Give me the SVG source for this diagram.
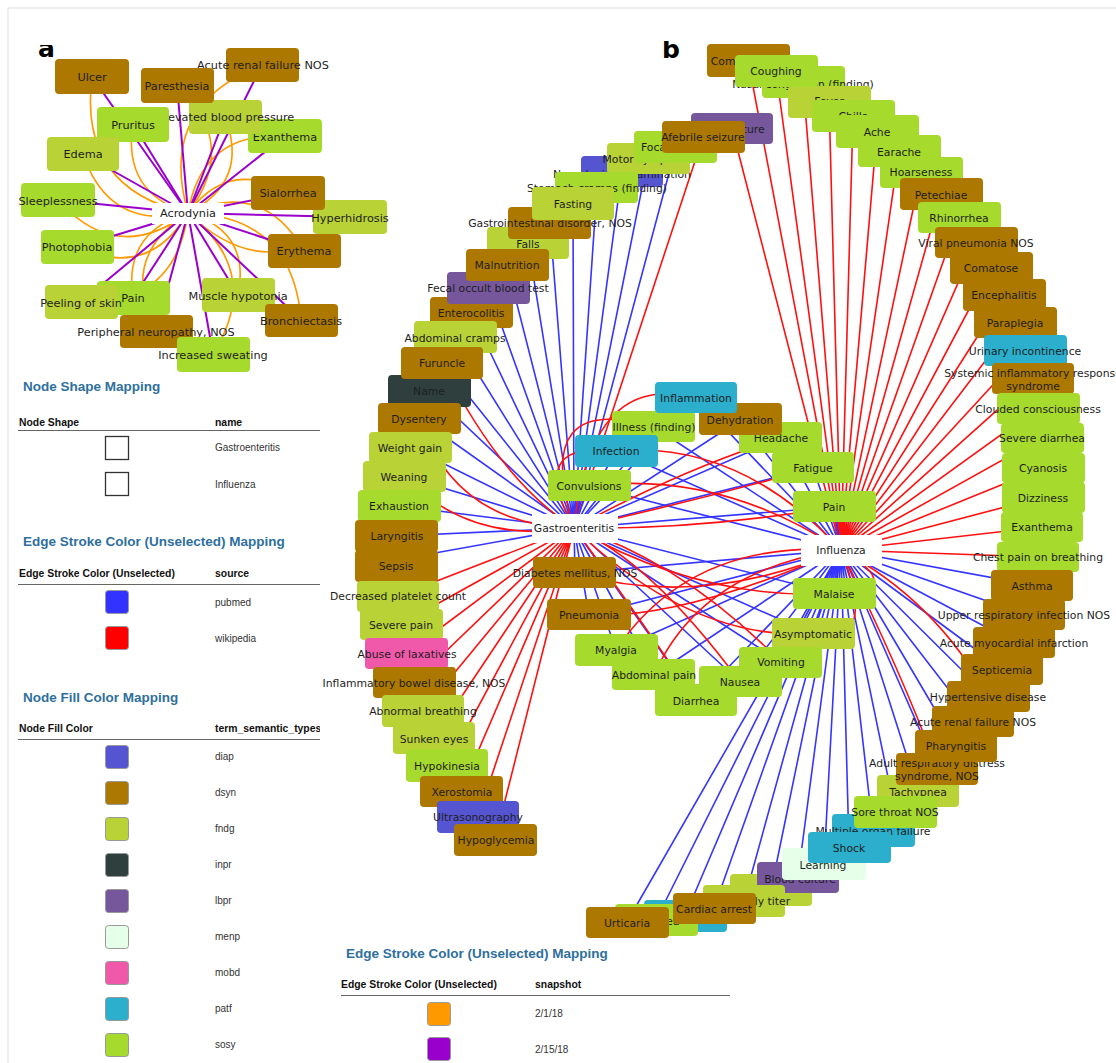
<svg xmlns="http://www.w3.org/2000/svg" width="1116" height="1063" viewBox="0 0 1116 1063">
<defs>
<style>
.ta{font-family:"DejaVu Sans",sans-serif;font-size:11.3px;fill:#1e1e1e;text-anchor:middle}
.tb{font-family:"DejaVu Sans",sans-serif;font-size:10.8px;fill:#1e1e1e;text-anchor:middle}
.dsyn{fill:#AD7800}.fndg{fill:#B9D236}.sosy{fill:#A6DA2C}.patf{fill:#2BAFCC}.diap{fill:#5555D2}.lbpr{fill:#76579C}.inpr{fill:#2F3F3E}.menp{fill:#E6FFE8}.mobd{fill:#F058AA}.hub{fill:#fff}
.pu{stroke:#9900CC;stroke-width:2;fill:none}
.or{stroke:#FF9900;stroke-width:1.6;fill:none}
.bl{stroke:#3535FF;stroke-width:1.6;fill:none}
.rd{stroke:#FF1010;stroke-width:1.6;fill:none}
.h1{font-family:"Liberation Sans",Arial,sans-serif;font-weight:bold;font-size:13.5px;fill:#2E6F9E}
.h2{font-family:"Liberation Sans",Arial,sans-serif;font-weight:bold;font-size:10.4px;fill:#111}
.lt{font-family:"Liberation Sans",Arial,sans-serif;font-size:10px;fill:#333}
.sw{stroke:#999;stroke-width:1}
.rule{stroke:#666;stroke-width:1;fill:none}
.pl{font-family:"DejaVu Sans",sans-serif;font-weight:bold;font-size:25px;fill:#000}
</style>
<clipPath id="ca"><rect x="0" y="45" width="200" height="100"/></clipPath>
<clipPath id="cb"><rect x="600" y="41" width="200" height="100"/></clipPath>
<clipPath id="ch"><rect x="0" y="700" width="320" height="60"/></clipPath>
</defs>
<rect width="1116" height="1063" fill="#fff"/>
<path d="M8 1063V8H1116" stroke="#ddd" fill="none"/>
<text class="pl" x="38" y="57" clip-path="url(#ca)">a</text>
<text class="pl" x="662" y="58" clip-path="url(#cb)">b</text>

<!-- panel a connectors -->
<g id="edges-a">
<path class="or" d="M188 213Q78 189 92 77"/>
<path class="or" d="M188 213Q240 144 177 85"/>
<path class="or" d="M188 213Q157 106 262 65"/>
<path class="or" d="M188 213Q250 182 225 117"/>
<path class="or" d="M188 213Q122 193 133 124"/>
<path class="or" d="M188 213Q202 131 285 136"/>
<path class="or" d="M188 213Q109 231 83 154"/>
<path class="or" d="M188 213Q229 158 288 193"/>
<path class="or" d="M188 213Q117 266 58 200"/>
<path class="or" d="M188 213Q267 289 350 217"/>
<path class="or" d="M188 213Q148 280 77 247"/>
<path class="or" d="M188 213Q263 179 304 251"/>
<path class="or" d="M188 213Q175 306 81 302"/>
<path class="or" d="M188 213Q123 232 133 298"/>
<path class="or" d="M188 213Q251 231 238 295"/>
<path class="or" d="M188 213Q293 216 301 320"/>
<path class="or" d="M188 213Q118 257 156 331"/>
<path class="or" d="M188 213Q264 273 213 354"/>
<path class="pu" d="M188 213L92 77"/>
<path class="pu" d="M188 213L177 85"/>
<path class="pu" d="M188 213L262 65"/>
<path class="pu" d="M188 213L225 117"/>
<path class="pu" d="M188 213L133 124"/>
<path class="pu" d="M188 213L285 136"/>
<path class="pu" d="M188 213L83 154"/>
<path class="pu" d="M188 213L288 193"/>
<path class="pu" d="M188 213L58 200"/>
<path class="pu" d="M188 213L350 217"/>
<path class="pu" d="M188 213L77 247"/>
<path class="pu" d="M188 213L304 251"/>
<path class="pu" d="M188 213L81 302"/>
<path class="pu" d="M188 213L133 298"/>
<path class="pu" d="M188 213L238 295"/>
<path class="pu" d="M188 213L301 320"/>
<path class="pu" d="M188 213L156 331"/>
<path class="pu" d="M188 213L213 354"/>
</g>

<!-- panel a nodes -->
<g id="a-arf"><rect class="dsyn" x="226" y="48" width="73" height="34" rx="4"/><text class="ta" x="263" y="69">Acute renal failure NOS</text></g>
<g id="a-exanthema"><rect class="sosy" x="248" y="119" width="74" height="34" rx="4"/><text class="ta" x="285" y="141">Exanthema</text></g>
<g id="a-ebp"><rect class="fndg" x="189" y="100" width="73" height="34" rx="4"/><text class="ta" x="226" y="121">Elevated blood pressure</text></g>
<g id="a-paresthesia"><rect class="dsyn" x="141" y="68" width="73" height="35" rx="4"/><text class="ta" x="177" y="90">Paresthesia</text></g>
<g id="a-ulcer"><rect class="dsyn" x="55" y="59" width="74" height="35" rx="4"/><text class="ta" x="92" y="81">Ulcer</text></g>
<g id="a-pruritus"><rect class="sosy" x="97" y="107" width="72" height="35" rx="4"/><text class="ta" x="133" y="129">Pruritus</text></g>
<g id="a-edema"><rect class="fndg" x="47" y="137" width="72" height="34" rx="4"/><text class="ta" x="83" y="158">Edema</text></g>
<g id="a-sleeplessness"><rect class="sosy" x="21" y="183" width="74" height="34" rx="4"/><text class="ta" x="58" y="205">Sleeplessness</text></g>
<g id="a-photophobia"><rect class="sosy" x="41" y="230" width="73" height="34" rx="4"/><text class="ta" x="77" y="251">Photophobia</text></g>
<g id="a-hyperhidrosis"><rect class="fndg" x="313" y="200" width="74" height="34" rx="4"/><text class="ta" x="350" y="222">Hyperhidrosis</text></g>
<g id="a-sialorrhea"><rect class="dsyn" x="251" y="176" width="74" height="34" rx="4"/><text class="ta" x="288" y="197">Sialorrhea</text></g>
<g id="a-erythema"><rect class="dsyn" x="268" y="234" width="73" height="34" rx="4"/><text class="ta" x="304" y="255">Erythema</text></g>
<g id="a-pain"><rect class="sosy" x="97" y="281" width="73" height="34" rx="4"/><text class="ta" x="133" y="302">Pain</text></g>
<g id="a-peeling"><rect class="fndg" x="45" y="285" width="73" height="34" rx="4"/><text class="ta" x="81" y="307">Peeling of skin</text></g>
<g id="a-muscle"><rect class="fndg" x="202" y="278" width="73" height="34" rx="4"/><text class="ta" x="238" y="300">Muscle hypotonia</text></g>
<g id="a-bronch"><rect class="dsyn" x="265" y="304" width="73" height="33" rx="4"/><text class="ta" x="301" y="325">Bronchiectasis</text></g>
<g id="a-periph"><rect class="dsyn" x="120" y="315" width="73" height="33" rx="4"/><text class="ta" x="156" y="336">Peripheral neuropathy, NOS</text></g>
<g id="a-sweating"><rect class="sosy" x="177" y="337" width="73" height="35" rx="4"/><text class="ta" x="213" y="359">Increased sweating</text></g>
<g id="a-acrodynia"><rect class="hub" x="152" y="203" width="72" height="21"/><text class="ta" x="188" y="217">Acrodynia</text></g>

<!-- panel b connectors -->
<g id="edges-b">
<path class="bl" d="M574 528L676 147M574 528L648 158M574 528L622 171M574 528L597 187M574 528L573 203M574 528L550 223M574 528L528 243M574 528L507 265M574 528L488 288M574 528L471 312M574 528L455 337M574 528L442 363M574 528L429 391M574 528L419 418M574 528L410 447M574 528L404 476M574 528L399 506M574 528L396 536M574 528L396 560"/>
<path class="rd" d="M574 528L703 137M574 528L398 596M574 528L401 624M574 528L407 653M574 528L414 682M574 528L423 711M574 528L434 738M574 528L447 765M574 528L461 791M574 528L478 817M574 528L495 840"/>
<path class="rd" d="M841 550L732 128M841 550L748 60M841 550L776 71M841 550L803 82M841 550L829 99M841 550L853 116M841 550L877 131M841 550L899 151M841 550L921 172M841 550L941 194M841 550L959 217M841 550L976 242M841 550L991 268M841 550L1004 295M841 550L1015 322M841 550L1025 350M841 550L1033 378M841 550L1038 408M841 550L1042 438M841 550L1043 468M841 550L1043 497M841 550L1042 527M841 550L1038 557"/>
<path class="bl" d="M841 550L1032 585M841 550L1024 614M841 550L1014 642M841 550L1002 669M841 550L988 696M841 550L973 721M841 550L956 745M841 550L937 769M841 550L918 791M841 550L895 811M841 550L873 830M841 550L849 847M841 550L824 864M841 550L798 877M841 550L771 890M841 550L744 901M841 550L714 908M841 550L685 916M841 550L656 920M841 550L627 922"/>
<path class="bl" d="M574 528L740 420M574 528L781 438M574 528L813 468M574 528L834 507M574 528L834 594M574 528L813 634M574 528L781 662M574 528L740 682M574 528L696 701M574 528L696 398"/>
<path class="bl" d="M841 550L616 451M841 550L589 486M841 550L654 427M841 550L575 573M841 550L589 615M841 550L616 650M841 550L654 675M841 550L696 701M841 550L696 398"/>
<path class="bl" d="M574 528L616 451M574 528L589 486M574 528L654 427M574 528L575 573M574 528L589 615M574 528L616 650M574 528L654 675M841 550L781 438M841 550L813 468M841 550L834 507M841 550L834 594M841 550L813 634M841 550L781 662M841 550L740 420M841 550L740 682"/>
<path class="rd" d="M574 528Q500 480 442 363"/>
<path class="rd" d="M574 528Q455 525 419 418"/>
<path class="rd" d="M574 528Q470 545 404 476"/>
<path class="rd" d="M574 528Q525 440 616 451"/>
<path class="rd" d="M574 528Q530 390 654 427"/>
<path class="rd" d="M574 528Q590 370 696 398"/>
<path class="rd" d="M574 528Q680 470 781 438"/>
<path class="rd" d="M574 528Q700 500 813 468"/>
<path class="rd" d="M574 528Q700 530 834 507"/>
<path class="rd" d="M574 528Q700 600 834 594"/>
<path class="rd" d="M574 528Q690 640 813 634"/>
<path class="rd" d="M574 528Q680 560 781 662"/>
<path class="rd" d="M574 528Q650 560 740 682"/>
<path class="rd" d="M574 528Q620 590 696 701"/>
<path class="rd" d="M841 550Q690 540 616 650"/>
<path class="rd" d="M841 550Q700 570 654 675"/>
<path class="rd" d="M841 550Q680 620 589 615"/>
<path class="rd" d="M841 550Q700 610 575 573"/>
<path class="rd" d="M841 550Q720 470 589 486"/>
<path class="rd" d="M841 550Q740 440 616 451"/>
<path class="rd" d="M841 550Q910 590 834 594"/>
<path class="rd" d="M841 550Q880 650 813 634"/>
<path class="rd" d="M841 550Q905 680 937 769"/>
<path class="rd" d="M841 550Q935 600 988 696"/>
</g>

<!-- panel b outer ring, Influenza side -->
<g id="b-commoncold"><rect class="dsyn" x="707" y="44" width="83" height="33" rx="4"/><text class="tb" x="748" y="65">Common cold</text></g>
<g id="b-nasal"><rect class="sosy" x="762" y="66" width="83" height="32" rx="4"/><text class="tb" x="803" y="88">Nasal congestion (finding)</text></g>
<g id="b-fever"><rect class="fndg" x="788" y="86" width="83" height="32" rx="4"/><text class="tb" x="829" y="105">Fever</text></g>
<g id="b-chills"><rect class="sosy" x="812" y="100" width="83" height="32" rx="4"/><text class="tb" x="853" y="120">Chills</text></g>
<g id="b-earache"><rect class="sosy" x="858" y="135" width="83" height="32" rx="4"/><text class="tb" x="899" y="156">Earache</text></g>
<g id="b-ache"><rect class="sosy" x="836" y="115" width="83" height="33" rx="4"/><text class="tb" x="877" y="136">Ache</text></g>
<g id="b-coughing"><rect class="sosy" x="735" y="55" width="83" height="32" rx="4"/><text class="tb" x="776" y="75">Coughing</text></g>
<g id="b-hoarseness"><rect class="sosy" x="880" y="157" width="83" height="31" rx="4"/><text class="tb" x="921" y="176">Hoarseness</text></g>
<g id="b-petechiae"><rect class="dsyn" x="900" y="178" width="83" height="32" rx="4"/><text class="tb" x="941" y="199">Petechiae</text></g>
<g id="b-rhinorrhea"><rect class="sosy" x="918" y="202" width="83" height="31" rx="4"/><text class="tb" x="959" y="222">Rhinorrhea</text></g>
<g id="b-viralpneu"><rect class="dsyn" x="935" y="227" width="83" height="31" rx="4"/><text class="tb" x="976" y="247">Viral pneumonia NOS</text></g>
<g id="b-comatose"><rect class="dsyn" x="950" y="252" width="83" height="32" rx="4"/><text class="tb" x="991" y="272">Comatose</text></g>
<g id="b-encephalitis"><rect class="dsyn" x="963" y="279" width="83" height="32" rx="4"/><text class="tb" x="1004" y="299">Encephalitis</text></g>
<g id="b-paraplegia"><rect class="dsyn" x="974" y="307" width="83" height="31" rx="4"/><text class="tb" x="1015" y="327">Paraplegia</text></g>
<g id="b-urinary"><rect class="patf" x="984" y="335" width="83" height="31" rx="4"/><text class="tb" x="1025" y="355">Urinary incontinence</text></g>
<g id="b-sirs"><rect class="dsyn" x="992" y="363" width="82" height="31" rx="4"/><text class="tb" x="1033" y="377">Systemic inflammatory response</text><text class="tb" x="1033" y="390">syndrome</text></g>
<g id="b-clouded"><rect class="sosy" x="997" y="393" width="83" height="31" rx="4"/><text class="tb" x="1038" y="413">Clouded consciousness</text></g>
<g id="b-severediarrhea"><rect class="sosy" x="1001" y="423" width="83" height="30" rx="4"/><text class="tb" x="1042" y="442">Severe diarrhea</text></g>
<g id="b-cyanosis"><rect class="sosy" x="1002" y="453" width="83" height="30" rx="4"/><text class="tb" x="1043" y="472">Cyanosis</text></g>
<g id="b-dizziness"><rect class="sosy" x="1002" y="482" width="83" height="31" rx="4"/><text class="tb" x="1043" y="502">Dizziness</text></g>
<g id="b-exanthema"><rect class="sosy" x="1001" y="512" width="82" height="30" rx="4"/><text class="tb" x="1042" y="531">Exanthema</text></g>
<g id="b-chestpain"><rect class="sosy" x="997" y="542" width="82" height="30" rx="4"/><text class="tb" x="1038" y="561">Chest pain on breathing</text></g>
<g id="b-asthma"><rect class="dsyn" x="991" y="570" width="82" height="31" rx="4"/><text class="tb" x="1032" y="590">Asthma</text></g>
<g id="b-uri"><rect class="dsyn" x="983" y="599" width="82" height="31" rx="4"/><text class="tb" x="1024" y="619">Upper respiratory infection NOS</text></g>
<g id="b-ami"><rect class="dsyn" x="973" y="627" width="82" height="31" rx="4"/><text class="tb" x="1014" y="647">Acute myocardial infarction</text></g>
<g id="b-septicemia"><rect class="dsyn" x="961" y="654" width="82" height="31" rx="4"/><text class="tb" x="1002" y="674">Septicemia</text></g>
<g id="b-hypertensive"><rect class="dsyn" x="947" y="681" width="83" height="31" rx="4"/><text class="tb" x="988" y="701">Hypertensive disease</text></g>
<g id="b-arf"><rect class="dsyn" x="932" y="706" width="82" height="31" rx="4"/><text class="tb" x="973" y="726">Acute renal failure NOS</text></g>
<g id="b-tachypnea"><rect class="fndg" x="877" y="775" width="82" height="32" rx="4"/><text class="tb" x="918" y="796">Tachypnea</text></g>
<g id="b-mof"><rect class="patf" x="832" y="814" width="83" height="33" rx="4"/><text class="tb" x="873" y="835">Multiple organ failure</text></g>
<g id="b-ards"><rect class="dsyn" x="896" y="753" width="82" height="32" rx="4"/><text class="tb" x="937" y="767">Adult respiratory distress</text><text class="tb" x="937" y="780">syndrome, NOS</text></g>
<g id="b-pharyngitis"><rect class="dsyn" x="915" y="730" width="82" height="32" rx="4"/><text class="tb" x="956" y="750">Pharyngitis</text></g>
<g id="b-sorethroat"><rect class="sosy" x="854" y="796" width="83" height="32" rx="4"/><text class="tb" x="895" y="816">Sore throat NOS</text></g>
<g id="b-n37"><rect class="fndg" x="730" y="874" width="82" height="32" rx="4"/></g>
<g id="b-bloodculture"><rect class="lbpr" x="757" y="862" width="82" height="31" rx="4"/><text class="tb" x="800" y="883">Blood culture</text></g>
<g id="b-learning"><rect class="menp" x="782" y="848" width="84" height="32" rx="4"/><text class="tb" x="823" y="869">Learning</text></g>
<g id="b-shock"><rect class="patf" x="808" y="832" width="83" height="31" rx="4"/><text class="tb" x="849" y="852">Shock</text></g>
<g id="b-antibody"><rect class="fndg" x="703" y="885" width="82" height="32" rx="4"/><text class="tb" x="753" y="905">Antibody titer</text></g>
<g id="b-n40"><rect class="patf" x="644" y="900" width="83" height="32" rx="4"/></g>
<g id="b-n41"><rect class="sosy" x="615" y="904" width="83" height="32" rx="4"/><text class="tb" x="656" y="925">Dyspnea</text></g>
<g id="b-cardiac"><rect class="dsyn" x="673" y="893" width="83" height="31" rx="4"/><text class="tb" x="714" y="913">Cardiac arrest</text></g>
<g id="b-urticaria"><rect class="dsyn" x="586" y="907" width="83" height="31" rx="4"/><text class="tb" x="627" y="927">Urticaria</text></g>

<!-- panel b outer ring, Gastroenteritis side -->
<g id="b-viralculture"><rect class="lbpr" x="691" y="113" width="82" height="31" rx="4"/><text class="tb" x="732" y="133">Viral culture</text></g>
<g id="b-neuro"><rect class="diap" x="581" y="156" width="82" height="31" rx="4"/><text class="tb" x="622" y="178">Neurological examination</text></g>
<g id="b-motor"><rect class="fndg" x="607" y="143" width="83" height="31" rx="4"/><text class="tb" x="648" y="163">Motor symptoms</text></g>
<g id="b-focal"><rect class="sosy" x="634" y="131" width="83" height="32" rx="4"/><text class="tb" x="676" y="151">Focal seizure</text></g>
<g id="b-afebrile"><rect class="dsyn" x="662" y="121" width="83" height="32" rx="4"/><text class="tb" x="703" y="141">Afebrile seizure</text></g>
<g id="b-falls"><rect class="fndg" x="487" y="227" width="82" height="32" rx="4"/><text class="tb" x="528" y="248">Falls</text></g>
<g id="b-gi"><rect class="dsyn" x="508" y="207" width="83" height="32" rx="4"/><text class="tb" x="550" y="227">Gastrointestinal disorder, NOS</text></g>
<g id="b-stomach"><rect class="sosy" x="555" y="172" width="83" height="31" rx="4"/><text class="tb" x="597" y="192">Stomach cramps (finding)</text></g>
<g id="b-fasting"><rect class="fndg" x="532" y="187" width="82" height="33" rx="4"/><text class="tb" x="573" y="208">Fasting</text></g>
<g id="b-enterocolitis"><rect class="dsyn" x="430" y="297" width="83" height="31" rx="4"/><text class="tb" x="471" y="317">Enterocolitis</text></g>
<g id="b-fecal"><rect class="lbpr" x="447" y="272" width="83" height="32" rx="4"/><text class="tb" x="488" y="292">Fecal occult blood test</text></g>
<g id="b-malnutrition"><rect class="dsyn" x="466" y="249" width="83" height="32" rx="4"/><text class="tb" x="507" y="269">Malnutrition</text></g>
<g id="b-abdcramps"><rect class="fndg" x="414" y="321" width="83" height="32" rx="4"/><text class="tb" x="455" y="342">Abdominal cramps</text></g>
<g id="b-name"><rect class="inpr" x="388" y="375" width="83" height="32" rx="4"/><text class="tb" x="429" y="395">Name</text></g>
<g id="b-furuncle"><rect class="dsyn" x="401" y="347" width="82" height="32" rx="4"/><text class="tb" x="442" y="367">Furuncle</text></g>
<g id="b-dysentery"><rect class="dsyn" x="378" y="403" width="83" height="31" rx="4"/><text class="tb" x="419" y="423">Dysentery</text></g>
<g id="b-weightgain"><rect class="fndg" x="369" y="432" width="83" height="31" rx="4"/><text class="tb" x="410" y="452">Weight gain</text></g>
<g id="b-weaning"><rect class="fndg" x="363" y="461" width="83" height="31" rx="4"/><text class="tb" x="404" y="481">Weaning</text></g>
<g id="b-exhaustion"><rect class="sosy" x="358" y="490" width="83" height="32" rx="4"/><text class="tb" x="399" y="510">Exhaustion</text></g>
<g id="b-laryngitis"><rect class="dsyn" x="355" y="520" width="83" height="32" rx="4"/><text class="tb" x="397" y="540">Laryngitis</text></g>
<g id="b-sepsis"><rect class="dsyn" x="355" y="550" width="83" height="32" rx="4"/><text class="tb" x="396" y="570">Sepsis</text></g>
<g id="b-platelet"><rect class="fndg" x="357" y="581" width="82" height="31" rx="4"/><text class="tb" x="398" y="600">Decreased platelet count</text></g>
<g id="b-severepain"><rect class="fndg" x="360" y="609" width="83" height="31" rx="4"/><text class="tb" x="401" y="629">Severe pain</text></g>
<g id="b-laxatives"><rect class="mobd" x="365" y="638" width="83" height="31" rx="4"/><text class="tb" x="407" y="658">Abuse of laxatives</text></g>
<g id="b-ibd"><rect class="dsyn" x="373" y="667" width="83" height="31" rx="4"/><text class="tb" x="414" y="687">Inflammatory bowel disease, NOS</text></g>
<g id="b-abnbreathing"><rect class="fndg" x="382" y="695" width="82" height="32" rx="4"/><text class="tb" x="423" y="715">Abnormal breathing</text></g>
<g id="b-sunken"><rect class="fndg" x="393" y="722" width="82" height="32" rx="4"/><text class="tb" x="434" y="743">Sunken eyes</text></g>
<g id="b-hypokinesia"><rect class="sosy" x="406" y="749" width="82" height="33" rx="4"/><text class="tb" x="447" y="770">Hypokinesia</text></g>
<g id="b-xerostomia"><rect class="dsyn" x="420" y="776" width="83" height="31" rx="4"/><text class="tb" x="462" y="796">Xerostomia</text></g>
<g id="b-ultrasono"><rect class="diap" x="437" y="801" width="82" height="32" rx="4"/><text class="tb" x="478" y="821">Ultrasonography</text></g>
<g id="b-hypoglycemia"><rect class="dsyn" x="454" y="824" width="83" height="32" rx="4"/><text class="tb" x="496" y="844">Hypoglycemia</text></g>

<!-- panel b inner nodes -->
<g id="b-illness"><rect class="sosy" x="612" y="411" width="83" height="31" rx="4"/><text class="tb" x="654" y="431">Illness (finding)</text></g>
<g id="b-headache"><rect class="sosy" x="739" y="422" width="83" height="31" rx="4"/><text class="tb" x="781" y="442">Headache</text></g>
<g id="b-dehydration"><rect class="dsyn" x="699" y="403" width="83" height="32" rx="4"/><text class="tb" x="740" y="424">Dehydration</text></g>
<g id="b-inflammation"><rect class="patf" x="655" y="382" width="82" height="31" rx="4"/><text class="tb" x="696" y="402">Inflammation</text></g>
<g id="b-infection"><rect class="patf" x="575" y="435" width="83" height="32" rx="4"/><text class="tb" x="616" y="455">Infection</text></g>
<g id="b-convulsions"><rect class="sosy" x="548" y="470" width="83" height="31" rx="4"/><text class="tb" x="589" y="490">Convulsions</text></g>
<g id="b-fatigue"><rect class="sosy" x="772" y="452" width="82" height="31" rx="4"/><text class="tb" x="813" y="472">Fatigue</text></g>
<g id="b-pain"><rect class="sosy" x="793" y="491" width="83" height="31" rx="4"/><text class="tb" x="834" y="511">Pain</text></g>
<g id="b-diabetes"><rect class="dsyn" x="533" y="557" width="83" height="31" rx="4"/><text class="tb" x="575" y="577">Diabetes mellitus, NOS</text></g>
<g id="b-malaise"><rect class="sosy" x="793" y="578" width="83" height="31" rx="4"/><text class="tb" x="834" y="598">Malaise</text></g>
<g id="b-pneumonia"><rect class="dsyn" x="547" y="599" width="84" height="31" rx="4"/><text class="tb" x="589" y="619">Pneumonia</text></g>
<g id="b-asymptomatic"><rect class="fndg" x="772" y="618" width="83" height="31" rx="4"/><text class="tb" x="813" y="638">Asymptomatic</text></g>
<g id="b-myalgia"><rect class="sosy" x="575" y="634" width="83" height="32" rx="4"/><text class="tb" x="616" y="654">Myalgia</text></g>
<g id="b-abdpain"><rect class="sosy" x="612" y="659" width="83" height="31" rx="4"/><text class="tb" x="654" y="679">Abdominal pain</text></g>
<g id="b-diarrhea"><rect class="sosy" x="655" y="684" width="82" height="32" rx="4"/><text class="tb" x="696" y="705">Diarrhea</text></g>
<g id="b-nausea"><rect class="sosy" x="699" y="666" width="83" height="31" rx="4"/><text class="tb" x="740" y="686">Nausea</text></g>
<g id="b-vomiting"><rect class="sosy" x="739" y="647" width="83" height="31" rx="4"/><text class="tb" x="781" y="666">Vomiting</text></g>
<g id="b-gastro"><rect class="hub" x="532" y="514" width="86" height="29"/><text class="tb" x="574" y="532">Gastroenteritis</text></g>
<g id="b-influenza"><rect class="hub" x="801" y="535" width="81" height="31"/><text class="tb" x="841" y="554">Influenza</text></g>

<!-- legends -->
<g id="legend-shape">
<text class="h1" x="23" y="391">Node Shape Mapping</text>
<text class="h2" x="19" y="426">Node Shape</text><text class="h2" x="215" y="426">name</text>
<path class="rule" d="M18 430.5H320"/>
<rect x="105.5" y="436.5" width="23" height="23" fill="none" stroke="#333" stroke-width="1.3"/><text class="lt" x="215" y="451">Gastroenteritis</text>
<rect x="105.5" y="472.5" width="23" height="23" fill="none" stroke="#333" stroke-width="1.3"/><text class="lt" x="215" y="488">Influenza</text>
</g>
<g id="legend-source">
<text class="h1" x="23" y="546">Edge Stroke Color (Unselected) Mapping</text>
<text class="h2" x="19" y="577">Edge Stroke Color (Unselected)</text><text class="h2" x="215" y="577">source</text>
<path class="rule" d="M18 584.5H320"/>
<rect class="sw" x="105.5" y="590.5" width="23" height="23" rx="3" fill="#3333FF"/><text class="lt" x="215" y="606">pubmed</text>
<rect class="sw" x="105.5" y="626.5" width="23" height="23" rx="3" fill="#FF0000"/><text class="lt" x="215" y="642">wikipedia</text>
</g>
<g id="legend-fill">
<text class="h1" x="23" y="702">Node Fill Color Mapping</text>
<text class="h2" x="19" y="732">Node Fill Color</text><text class="h2" x="215" y="732" clip-path="url(#ch)">term_semantic_types</text>
<path class="rule" d="M18 739.5H320"/>
<rect class="sw diap" x="105.5" y="745.5" width="23" height="23" rx="3"/><text class="lt" x="215" y="760">diap</text>
<rect class="sw dsyn" x="105.5" y="781.5" width="23" height="23" rx="3"/><text class="lt" x="215" y="796">dsyn</text>
<rect class="sw fndg" x="105.5" y="817.5" width="23" height="23" rx="3"/><text class="lt" x="215" y="832">fndg</text>
<rect class="sw inpr" x="105.5" y="853.5" width="23" height="23" rx="3"/><text class="lt" x="215" y="868">inpr</text>
<rect class="sw lbpr" x="105.5" y="889.5" width="23" height="23" rx="3"/><text class="lt" x="215" y="904">lbpr</text>
<rect class="sw menp" x="105.5" y="925.5" width="23" height="23" rx="3"/><text class="lt" x="215" y="940">menp</text>
<rect class="sw mobd" x="105.5" y="961.5" width="23" height="23" rx="3"/><text class="lt" x="215" y="976">mobd</text>
<rect class="sw patf" x="105.5" y="997.5" width="23" height="23" rx="3"/><text class="lt" x="215" y="1012">patf</text>
<rect class="sw sosy" x="105.5" y="1033.5" width="23" height="23" rx="3"/><text class="lt" x="215" y="1048">sosy</text>
</g>
<g id="legend-snapshot">
<text class="h1" x="346" y="958">Edge Stroke Color (Unselected) Mapping</text>
<text class="h2" x="341" y="988">Edge Stroke Color (Unselected)</text><text class="h2" x="535" y="988">snapshot</text>
<path class="rule" d="M341 995.5H730"/>
<rect class="sw" x="427.5" y="1002.5" width="23" height="23" rx="3" fill="#FF9900"/><text class="lt" x="535" y="1017">2/1/18</text>
<rect class="sw" x="427.5" y="1037.5" width="23" height="23" rx="3" fill="#9900CC"/><text class="lt" x="535" y="1053">2/15/18</text>
</g>
</svg>
